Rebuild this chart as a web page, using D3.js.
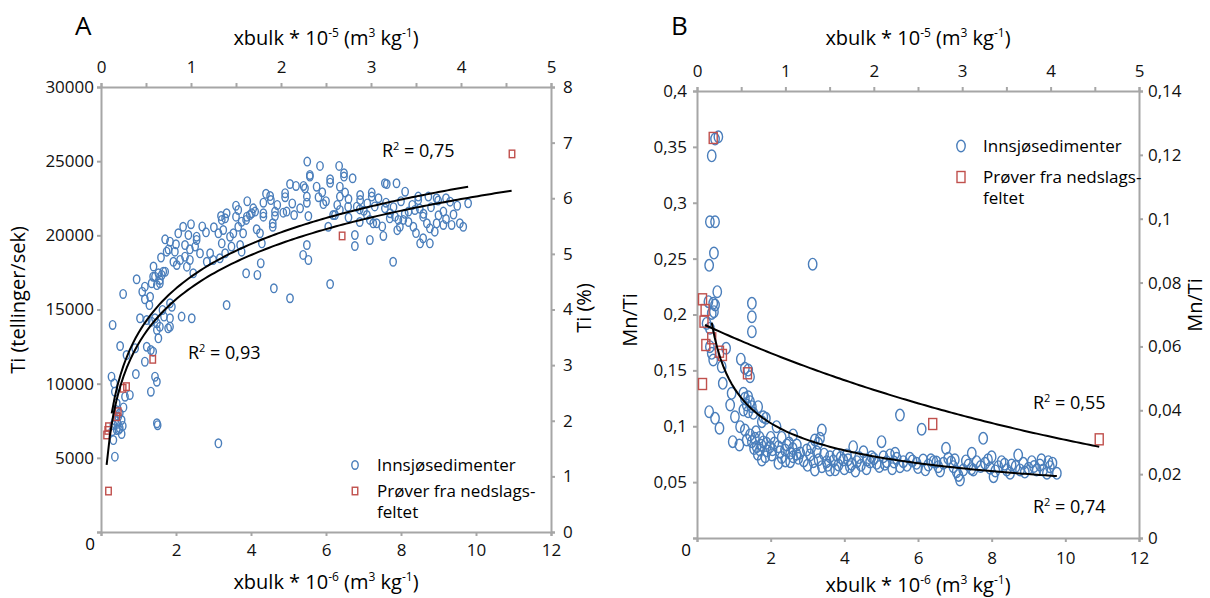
<!DOCTYPE html>
<html>
<head>
<meta charset="utf-8">
<script src="https://cdn.jsdelivr.net/npm/d3@7"></script>
<style>
  body { margin: 0; background: #fff; }
  svg { font-family: "Open Sans", sans-serif; }
  .axis path, .axis line { stroke: #a6a6a6; stroke-width: 2; }
  .axis text { font-size: 17px; fill: #111; font-family: "Open Sans", sans-serif; }
</style>
</head>
<body>
<svg id="chart" width="1210" height="598"></svg>
<script>
// ---- panel A: Ti vs xbulk ----
var tiLake = [
  [5.50,24970],[6.35,24680],[5.84,24680],[6.48,24180],[6.48,23960],[6.71,23850],[5.57,23960],[5.57,24070],
  [6.11,23780],[6.11,23550],[5.04,23460],[5.20,23330],[5.40,23330],[5.44,23170],[5.75,23280],[4.91,22840],
  [4.91,22570],[4.51,22650],[4.53,22380],[4.33,22200],[5.49,22610],[5.49,22200],[5.80,22570],[6.37,23280],
  [6.37,22610],[6.51,22880],[6.91,22720],[6.91,22380],[7.22,22880],[7.22,22610],[7.57,23510],[7.62,23460],
  [7.88,23510],[8.11,22940],[8.46,22610],[8.46,22380],[8.73,22610],[8.95,22500],[8.99,22340],[9.31,22270],
  [9.79,22160],[4.64,21600],[4.64,21300],[4.33,21490],[4.33,21260],[4.06,21820],[4.11,21600],[4.02,21490],
  [3.89,21260],[3.97,21370],[3.87,21040],[3.66,21710],[3.60,21260],[3.75,20920],[3.35,21490],[3.31,21150],
  [3.22,21040],[3.01,20540],[3.13,20140],[3.26,20360],[3.44,19910],[3.53,20140],[3.66,20580],[3.79,20140],
  [4.15,20410],[4.24,20140],[4.29,19460],[4.58,20810],[4.58,20580],[4.86,21530],[4.95,21600],[5.15,21370],
  [5.31,21820],[5.53,21300],[5.93,22110],[6.19,21370],[6.37,21710],[6.59,21930],[6.82,21930],[7.01,21660],
  [7.09,21370],[7.17,21040],[7.26,20810],[7.35,20810],[7.57,21820],[7.71,21490],[7.84,21260],[7.93,21040],
  [8.06,21040],[7.97,20580],[8.33,20580],[8.37,21710],[8.59,21260],[8.69,20810],[8.77,20470],[8.95,20810],
  [9.13,21600],[9.13,20700],[9.35,20700],[9.57,20810],[9.66,20580],[8.59,19800],[8.51,19460],[8.77,19460],
  [6.77,20020],[6.77,19280],[7.17,19690],[7.53,19960],[7.79,18220],[5.49,19350],[5.39,18680],[5.53,18340],
  [6.06,20580],[6.24,21370],[4.26,18120],[3.87,17440],[4.17,17330],[3.48,19240],[3.71,19350],[3.75,18900],
  [3.22,19460],[3.31,18790],[3.17,18450],[2.91,18790],[2.99,18340],[2.82,18220],[2.64,18790],[2.55,19690],
  [2.51,19240],[2.19,20580],[2.06,20140],[2.33,20020],[1.71,19730],[1.84,19570],[1.75,18900],[1.97,18900],
  [1.93,18220],[2.11,18340],[2.24,19350],[2.37,19060],[2.24,18560],[2.55,19910],[2.02,18000],[2.29,17890],
  [2.37,18340],[2.46,17440],[0.95,17040],[1.44,17210],[1.57,16990],[1.66,17550],[1.39,17210],[1.53,17440],
  [1.62,17330],[1.71,17550],[1.17,16540],[1.35,16770],[1.49,16650],[1.57,16770],[0.59,16050],[1.17,15690],
  [1.31,15860],[1.29,15300],[1.04,14410],[1.22,14290],[1.35,14180],[1.44,14410],[1.49,14070],[1.64,14970],
  [1.68,14520],[1.84,15420],[1.89,15190],[1.84,14410],[2.15,14520],[2.42,14410],[3.35,15300],[4.61,16430],
  [5.04,15760],[6.11,16720],[0.31,13960],[0.51,12540],[0.68,11930],[0.91,12390],[1.22,12490],[1.33,12270],
  [1.39,12160],[1.49,13620],[1.53,13060],[1.57,13840],[1.79,13730],[1.84,13840],[1.17,11480],[0.93,10650],
  [1.44,10470],[1.49,10130],[1.33,9460],[0.28,10470],[0.35,10020],[0.37,9460],[0.64,9120],[0.77,9240],
  [1.49,7330],[1.51,7200],[3.13,5980],[0.42,8680],[0.40,8230],[0.46,7780],[0.55,7550],[0.33,7210],
  [0.42,6880],[0.55,6610],[0.33,6200],[0.37,5080],[0.45,7300],[0.50,7000],[0.38,7500],[0.50,8000],
  [0.60,8400],[0.30,6800],[0.48,6900],[0.58,7150],
  [5.90,22900],[6.00,22300],[6.30,22050],[6.60,22450],[6.90,21750],[7.10,22150],[7.30,21950],[7.40,22500],
  [7.60,22200],[7.80,21900],[8.00,22300],[8.20,21600],[8.30,22050],[8.50,21800],[8.60,21450],[8.80,21900],
  [9.00,21350],[9.20,21100],[9.40,21400],[9.50,22000],[7.50,20600],[7.90,20350],[8.20,20900],[8.40,20150],
  [6.60,21200],[6.90,20900],[7.70,21150],[8.10,21450],[8.90,20250],[9.20,22500],[5.10,22150],[4.70,22050],
  [4.40,22800],[3.90,22300],[3.60,22000],[3.20,21300],[2.70,20600],[2.40,20750],[2.80,20200],[2.00,19400],
  [1.80,19050],[1.60,18500],[1.40,17900],[1.10,16200]
];
var tiCatch = [
  [0.20,7100],[0.15,6540],[0.18,6850],[0.46,8110],[0.42,7770],[0.68,9800],[0.59,9690],
  [1.38,11640],[6.43,19960],[10.96,25490],[0.20,2760]
];
// logarithmic trend lines: [a, b] for y = a*ln(x) + b, and the x span drawn
var tiLakeFit = [4321, 13424];
var tiLakeSpan = [0.285, 9.79];
var tiCatchFit = [4310, 12696];
var tiCatchSpan = [0.15, 10.95];

var tiTicks = [0, 5000, 10000, 15000, 20000, 25000, 30000];
var tiPctTicks = [0, 1, 2, 3, 4, 5, 6, 7, 8];

// ---- panel B: Mn/Ti vs xbulk ----
var mnLake = [
  [0.58,0.359],[0.49,0.357],[0.40,0.342],[0.35,0.283],[0.49,0.283],[0.46,0.255],[0.33,0.244],[3.14,0.245],
  [0.55,0.2204],[0.44,0.21],[0.49,0.2085],[0.31,0.2115],[0.40,0.201],[0.46,0.2025],[1.49,0.21],[1.49,0.198],
  [1.49,0.1846],[0.26,0.192],[0.35,0.1876],[0.35,0.1712],[0.40,0.1653],[0.44,0.1593],[0.79,0.1698],[0.67,0.1533],
  [0.70,0.1384],[1.19,0.16],[1.30,0.1519],[1.44,0.1443],[1.39,0.1503],[0.94,0.1295],[0.90,0.119],[1.03,0.1085],
  [0.33,0.113],[0.49,0.1071],[0.61,0.0982],[0.97,0.0862],[1.15,0.0832],[1.26,0.1295],[1.30,0.125],[1.39,0.1264],
  [1.44,0.122],[1.35,0.119],[1.49,0.1175],[1.26,0.1145],[1.39,0.113],[1.53,0.1116],[1.66,0.1175],[1.80,0.1085],
  [1.87,0.1071],[1.76,0.1041],[1.17,0.0996],[1.30,0.0966],[1.44,0.0922],[1.35,0.0877],[1.49,0.0862],[1.57,0.0892],
  [1.62,0.0817],[1.71,0.0787],[1.76,0.0698],[1.89,0.0847],[1.98,0.0817],[2.03,0.0743],[1.85,0.0727],[2.16,0.0996],
  [2.21,0.0817],[2.25,0.0772],[2.39,0.0787],[2.44,0.0832],[2.53,0.0758],[2.21,0.0668],[2.61,0.0922],[2.71,0.0832],
  [2.61,0.0727],[2.75,0.0713],[2.53,0.0683],[2.98,0.0787],[3.07,0.0743],[3.20,0.0877],[3.29,0.0847],[3.39,0.0966],
  [3.34,0.0892],[3.25,0.0772],[3.16,0.0683],[3.20,0.0609],[3.39,0.0638],[3.52,0.0683],[3.61,0.0727],[3.79,0.0743],
  [3.61,0.0609],[3.84,0.0653],[3.97,0.0698],[4.07,0.0743],[4.24,0.0817],[4.15,0.0638],[4.34,0.0683],[4.52,0.0772],
  [4.61,0.0698],[4.74,0.0727],[4.88,0.0668],[5.01,0.0862],[5.06,0.0727],[5.15,0.0683],[5.24,0.0743],[5.38,0.0758],
  [5.42,0.0713],[5.51,0.0638],[5.60,0.0683],[5.51,0.110],[6.10,0.0973],[5.78,0.0713],[5.96,0.0668],[6.14,0.0698],
  [6.28,0.0653],[6.42,0.0683],[6.55,0.0638],[6.69,0.0668],[6.76,0.0803],[6.82,0.0713],[6.96,0.0638],[7.05,0.0593],
  [7.14,0.0519],[7.23,0.0609],[7.37,0.0653],[7.46,0.0758],[7.50,0.0609],[7.59,0.0683],[7.77,0.0892],[7.82,0.0668],
  [7.96,0.0624],[8.00,0.0727],[8.05,0.0549],[8.18,0.0638],[8.27,0.0683],[8.41,0.0609],[8.54,0.0653],[8.72,0.0743],
  [8.77,0.0609],[8.86,0.0668],[9.00,0.0624],[9.09,0.0683],[9.22,0.0609],[9.31,0.0653],[9.40,0.0609],[9.54,0.0683],
  [9.58,0.0638],[9.77,0.0579],
  [1.60,0.0950],[1.70,0.0900],[1.80,0.0860],[1.90,0.0780],[2.00,0.0900],[2.10,0.0850],[2.30,0.0720],[2.40,0.0690],
  [2.50,0.0850],[2.60,0.0800],[2.80,0.0760],[2.90,0.0690],[3.00,0.0650],[3.10,0.0810],[3.30,0.0700],[3.45,0.0750],
  [3.55,0.0650],[3.70,0.0690],[3.75,0.0610],[3.90,0.0720],[4.00,0.0620],[4.10,0.0700],[4.20,0.0660],[4.30,0.0600],
  [4.40,0.0720],[4.45,0.0650],[4.60,0.0620],[4.70,0.0680],[4.80,0.0710],[4.95,0.0640],[5.10,0.0660],[5.30,0.0620],
  [5.35,0.0680],[5.70,0.0650],[5.85,0.0690],[6.00,0.0630],[6.20,0.0610],[6.35,0.0700],[6.50,0.0680],[6.60,0.0600],
  [6.90,0.0680],[7.00,0.0700],[7.10,0.0560],[7.30,0.0690],[7.45,0.0620],[7.70,0.0640],[7.90,0.0700],[8.10,0.0600],
  [8.35,0.0660],[8.50,0.0580],[8.65,0.0640],[8.90,0.0590],[9.15,0.0640],[9.35,0.0700],[9.50,0.0580],[9.65,0.0670],
  [1.55,0.0800],[1.65,0.0750],[1.75,0.0830],[2.05,0.0790],[2.30,0.0900],[2.70,0.0750]
];
var mnCatch = [
  [0.44,0.358],[0.15,0.2136],[0.22,0.204],[0.19,0.1936],[0.24,0.1727],[0.40,0.1787],[0.61,0.1667],
  [0.69,0.1638],[1.37,0.1474],[0.15,0.1378],[6.40,0.102],[10.92,0.0883]
];
// power trend y = a*x^b (lake) and exponential trend y = a*e^(b*x) (catchment)
var mnLakeFit = [0.1347, -0.39];
var mnLakeSpan = [0.4, 9.77];
var mnCatchFit = [0.1939, -0.0792];
var mnCatchSpan = [0.217, 10.92];

var mnTicks = [0, 0.05, 0.1, 0.15, 0.2, 0.25, 0.3, 0.35, 0.4];
var mnRightTicks = [0, 0.02, 0.04, 0.06, 0.08, 0.1, 0.12, 0.14];

var bottomTicks = [0, 2, 4, 6, 8, 10, 12];
var topTicks = [0, 0.5, 1, 1.5, 2, 2.5, 3, 3.5, 4, 4.5, 5];

var legendNames = ['Innsjøsedimenter', 'Prøver fra nedslags-', 'feltet'];

var BLUE = '#4a7ebb', RED = '#c0504d';
var svg = d3.select('#chart');

function comma(v){
  return String(+v.toFixed(3)).replace('.', ',');
}

// text with superscripts, parts = [[string, isSup], ...]
function rich(g, x, y, parts, size, anchor, rotate){
  var t = g.append('text')
    .attr('font-size', size)
    .attr('text-anchor', anchor || 'start')
    .attr('transform', 'translate(' + x + ',' + y + ')' + (rotate ? ' rotate(' + rotate + ')' : ''));
  var lift = Math.round(size * 0.38), raised = false;
  parts.forEach(function(p){
    var s = t.append('tspan').text(p[0]);
    if (p[1]) {
      s.attr('font-size', Math.round(size * 0.62)).attr('dy', raised ? 0 : -lift);
      raised = true;
    } else if (raised) {
      s.attr('dy', lift);
      raised = false;
    }
  });
  return t;
}

function curve(kind, coef, span){
  var n = 120, pts = [];
  for (var i = 0; i <= n; i++) {
    var x = span[0] + (span[1] - span[0]) * i / n, y;
    if (kind === 'log') y = coef[0] * Math.log(x) + coef[1];
    else if (kind === 'pow') y = coef[0] * Math.pow(x, coef[1]);
    else y = coef[0] * Math.exp(coef[1] * x);
    pts.push([x, y]);
  }
  return pts;
}

function drawPanel(p){
  var g = svg.append('g');
  var x = d3.scaleLinear().domain([0, 12]).range([p.left, p.right]);
  var xTop = d3.scaleLinear().domain([0, 5]).range([p.left, p.right]);
  var y = d3.scaleLinear().domain([0, p.yMax]).range([p.bottom, p.top]);
  var y2 = d3.scaleLinear().domain([0, p.y2Max]).range([p.bottom, p.top]);

  g.append('g').attr('class', 'axis').attr('transform', 'translate(0,' + p.top + ')')
    .call(d3.axisTop(xTop).tickValues(topTicks).tickSizeOuter(0).tickSize(4).tickPadding(10)
      .tickFormat(function(d){ return d % 1 === 0 ? d : ''; }));
  g.append('g').attr('class', 'axis').attr('transform', 'translate(0,' + p.bottom + ')')
    .call(d3.axisBottom(x).tickValues(bottomTicks).tickSizeOuter(0).tickSize(4).tickPadding(p.bottomPad)
      .tickFormat(function(d){ return d === 0 ? '' : d; }));
  g.append('g').attr('class', 'axis').attr('transform', 'translate(' + p.left + ',0)')
    .call(d3.axisLeft(y).tickValues(p.yTicks).tickSizeOuter(0).tickSize(4).tickPadding(p.leftPad)
      .tickFormat(function(d){ return d === 0 ? '' : comma(d); }));
  g.append('g').attr('class', 'axis').attr('transform', 'translate(' + p.right + ',0)')
    .call(d3.axisRight(y2).tickValues(p.y2Ticks).tickSizeOuter(0).tickSize(4).tickPadding(p.rightPad)
      .tickFormat(comma));
  g.selectAll('.axis .domain').attr('stroke', '#a6a6a6').attr('stroke-width', 2);
  g.append('text').attr('x', p.left - 11).attr('y', p.bottom + 18)
    .attr('text-anchor', 'middle').attr('font-size', 17).text('0');

  var line = d3.line().x(function(d){ return x(d[0]); }).y(function(d){ return y(d[1]); });

  g.append('g').selectAll('ellipse').data(p.lake).enter().append('ellipse')
    .attr('cx', function(d){ return x(d[0]); })
    .attr('cy', function(d){ return y(d[1]); })
    .attr('rx', p.rx).attr('ry', p.ry)
    .attr('fill', 'none').attr('stroke', BLUE).attr('stroke-width', 1.4);

  g.append('g').selectAll('rect').data(p.catch).enter().append('rect')
    .attr('x', function(d){ return x(d[0]) - p.sw / 2; })
    .attr('y', function(d){ return y(d[1]) - p.sh / 2; })
    .attr('width', p.sw).attr('height', p.sh)
    .attr('fill', 'none').attr('stroke', RED).attr('stroke-width', 1.4);

  p.fits.forEach(function(f){
    g.append('path').datum(curve(f[0], f[1], f[2])).attr('d', line)
      .attr('fill', 'none').attr('stroke', '#000').attr('stroke-width', 2);
  });

  p.r2.forEach(function(r){
    rich(g, r[0], r[1], [['R', 0], ['2', 1], [' = ' + r[2], 0]], 18);
  });

  // legend
  var L = p.legend;
  g.append('ellipse').attr('cx', L[0]).attr('cy', L[1]).attr('rx', p.rx).attr('ry', p.ry)
    .attr('fill', 'none').attr('stroke', BLUE).attr('stroke-width', 1.4);
  g.append('rect').attr('x', L[0] - p.sw / 2).attr('y', L[1] + L[2] - p.sh / 2)
    .attr('width', p.sw).attr('height', p.sh)
    .attr('fill', 'none').attr('stroke', RED).attr('stroke-width', 1.4);
  g.append('text').attr('x', L[0] + 22).attr('y', L[1] + 6).attr('font-size', 17).text(legendNames[0]);
  g.append('text').attr('x', L[0] + 22).attr('y', L[1] + L[2] + 6).attr('font-size', 17).text(legendNames[1]);
  g.append('text').attr('x', L[0] + 22).attr('y', L[1] + L[2] + 27).attr('font-size', 17).text(legendNames[2]);

  // titles
  g.append('text').attr('x', p.left - 26).attr('y', 35).attr('font-size', 26).text(p.letter);
  var cx = (p.left + p.right) / 2;
  rich(g, cx, 45, [['xbulk * 10', 0], ['-5', 1], [' (m', 0], ['3', 1], [' kg', 0], ['-1', 1], [')', 0]], 20, 'middle');
  rich(g, cx, p.bottomTitle, [['xbulk * 10', 0], ['-6', 1], [' (m', 0], ['3', 1], [' kg', 0], ['-1', 1], [')', 0]], 20, 'middle');
  g.append('text').attr('font-size', 20).attr('text-anchor', 'middle')
    .attr('transform', 'translate(' + p.yTitle[0] + ',' + p.yTitle[1] + ') rotate(-90)').text(p.yLabel);
  g.append('text').attr('font-size', 20).attr('text-anchor', 'middle')
    .attr('transform', 'translate(' + p.y2Title[0] + ',' + p.y2Title[1] + ') rotate(-90)').text(p.y2Label);
}

drawPanel({
  letter: 'A', left: 101, right: 551, top: 87, bottom: 532,
  yMax: 30000, y2Max: 8, yTicks: tiTicks, y2Ticks: tiPctTicks,
  leftPad: 3, rightPad: 8, bottomPad: 8, bottomTitle: 589,
  lake: tiLake, catch: tiCatch, rx: 3.2, ry: 4.3, sw: 5.5, sh: 7.5,
  fits: [['log', tiLakeFit, tiLakeSpan], ['log', tiCatchFit, tiCatchSpan]],
  r2: [[382, 157, '0,75'], [188, 359, '0,93']],
  legend: [355, 465, 26],
  yLabel: 'Ti (tellinger/sek)', yTitle: [25, 300],
  y2Label: 'Ti (%)', y2Title: [591, 308]
});

drawPanel({
  letter: 'B', left: 697, right: 1139, top: 91, bottom: 538,
  yMax: 0.4, y2Max: 0.14, yTicks: mnTicks, y2Ticks: mnRightTicks,
  leftPad: 6, rightPad: 5, bottomPad: 10, bottomTitle: 592,
  lake: mnLake, catch: mnCatch, rx: 4.2, ry: 5.8, sw: 8, sh: 11,
  fits: [['exp', mnCatchFit, mnCatchSpan], ['pow', mnLakeFit, mnLakeSpan]],
  r2: [[1033, 409, '0,55'], [1033, 513, '0,74']],
  legend: [961, 146, 31],
  yLabel: 'Mn/Ti', yTitle: [637, 320],
  y2Label: 'Mn/Ti', y2Title: [1202, 305]
});
</script>
</body>
</html>
